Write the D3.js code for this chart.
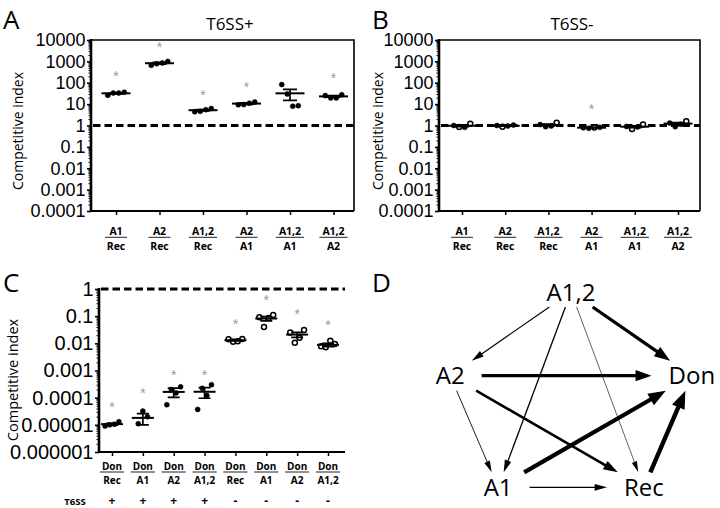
<!DOCTYPE html>
<html><head><meta charset="utf-8">
<script src="https://cdn.jsdelivr.net/npm/d3@7"></script>
<style>body{margin:0;background:#fff} svg{display:block}</style>
</head><body><svg id="c" width="720" height="508"></svg>
<script>
// ---------- DATA ----------
const numAB = ["A1","A2","A1,2","A2","A1,2","A1,2"];
const denAB = ["Rec","Rec","Rec","A1","A1","A2"];
const ticksAB = [1e4,1e3,100,10,1,0.1,0.01,0.001,1e-4];
const tickLabelsAB = ["10000","1000","100","10","1","0.1","0.01","0.001","0.0001"];

const pointsA = [[26,33,33,36],[650,780,850,1000],[4.4,4.6,5.5,6.2],[9.3,9.5,11,12.5],[82,30,8,8.5],[25,19.5,19.5,27.5]];
const meansA = [32,820,5.2,10.6,32,23];
const semA = [2,75,0.4,0.8,17,2];
const starsA = [263,5850,34,81,null,212];

const pointsB = [[1.0,0.85,0.82,1.2],[1.0,0.88,0.95,1.05],[1.1,0.88,0.95,1.35],[0.78,0.74,0.8,0.82],[0.9,0.68,0.85,1.1],[1.3,0.88,1.15,1.6]];
const openB = [[0,1,0,1],[0,1,0,0],[0,0,0,1],[0,0,1,0],[0,1,0,1],[0,0,0,1]];
const meansB = [0.97,0.97,1.07,0.79,0.88,1.23];
const semB = [0.09,0.04,0.1,0.02,0.09,0.15];
const starsB = [null,null,null,7.6,null,null];

const numC = ["Don","Don","Don","Don","Don","Don","Don","Don"];
const denC = ["Rec","A1","A2","A1,2","Rec","A1","A2","A1,2"];
const t6ssC = ["+","+","+","+","-","-","-","-"];
const ticksC = [1,0.1,0.01,0.001,1e-4,1e-5,1e-6];
const tickLabelsC = ["1","0.1","0.01","0.001","0.0001","0.00001","0.000001"];
const pointsC = [[0.9e-5,1.0e-5,1.05e-5,1.3e-5],[1.1e-5,3.2e-5,2.0e-5],[5.5e-5,2.0e-4,1.5e-4,2.5e-4],[3.7e-5,2.2e-4,1.2e-4,3.0e-4],[0.014,0.0115,0.012,0.0145],[0.092,0.04,0.085,0.11],[0.025,0.0105,0.016,0.031],[0.0078,0.0072,0.0125,0.0095]];
const openC = [0,0,0,0,1,1,1,1];
const meansC = [1.06e-5,1.8e-5,1.63e-4,1.65e-4,0.013,0.082,0.021,0.0088];
const semC = [0.08e-5,0.8e-5,0.6e-4,0.7e-4,0.0008,0.015,0.0045,0.0012];
const starsC = [5.6e-5,1.8e-4,8.1e-4,8.1e-4,0.062,0.48,0.145,0.057];

const nodesD = ["A1,2","Don","Rec","A1","A2"];
const edgesD = [["A1,2","A2",23],["A1,2","A1",32],["A1,2","Rec",5.2],["A1,2","Don",1/1.65e-4],["A2","Don",1/1.63e-4],["A2","Rec",820],["A2","A1",10.6],["A1","Don",1/1.8e-5],["Rec","Don",1/1.06e-5],["A1","Rec",32]];

// ---------- DRAW ----------
const svg = d3.select("#c");
const sans = "'Open Sans','Noto Sans',sans-serif";
const numFont = "'Liberation Sans',Arial,sans-serif";

function minorTicks(domain){
  const out=[]; const lo=Math.round(Math.log10(domain[0])), hi=Math.round(Math.log10(domain[1]));
  for(let e=lo;e<hi;e++) for(let m=2;m<=9;m++) out.push(m*Math.pow(10,e));
  return out;
}

function panel(cfg, d){
  const y = d3.scaleLog().domain(cfg.domain).range([cfg.yBot, cfg.yTop]);
  const x = d3.scalePoint().domain(d3.range(d.num.length)).range(cfg.catRange);
  const g = svg.append("g");
  g.append("line").attr("x1",cfg.x0+2).attr("x2",cfg.x1).attr("y1",y(1)).attr("y2",y(1))
    .attr("stroke","#000").attr("stroke-width",2.8).attr("stroke-dasharray","7.5,4");
  if(cfg.box) g.append("path").attr("d",`M${cfg.x0},${cfg.yTop}H${cfg.x1}V${cfg.yBot}`)
    .attr("fill","none").attr("stroke","#000").attr("stroke-width",1.6);
  g.append("line").attr("x1",cfg.x0).attr("x2",cfg.x1).attr("y1",cfg.yBot).attr("y2",cfg.yBot)
    .attr("stroke","#000").attr("stroke-width",2);
  const xa = g.append("g").attr("transform",`translate(0,${cfg.yBot})`)
    .call(d3.axisBottom(x).tickSize(4).tickFormat(""));
  xa.select(".domain").remove();
  xa.selectAll("line").attr("stroke-width",1.5);
  const ym = g.append("g").attr("transform",`translate(${cfg.x0},0)`)
    .call(d3.axisLeft(y).tickValues(minorTicks(cfg.domain)).tickSize(2.5).tickFormat(""));
  ym.select(".domain").remove();
  ym.selectAll("line").attr("stroke-width",1);
  const ya = g.append("g").attr("transform",`translate(${cfg.x0},0)`)
    .call(d3.axisLeft(y).tickValues(d.ticks).tickFormat((v,i)=>d.tickLabels[i]).tickSize(4).tickPadding(1.5));
  ya.select(".domain").attr("d",`M0,${cfg.yBot+1}V${cfg.yTop-1}`).attr("stroke-width",2.6);
  ya.selectAll("line").attr("stroke-width",1.6);
  ya.selectAll("text").attr("font-family",numFont).attr("font-size",cfg.tickFont).attr("fill","#000");
  g.append("text").attr("transform",`translate(${cfg.labX},${cfg.labY}) rotate(-90)`)
    .attr("text-anchor","middle").attr("dy","0.35em").attr("font-family",sans).attr("font-size",cfg.labFont)
    .text("Competitive index");
  d.points.forEach((pts,ci)=>{
    const n=pts.length;
    pts.forEach((v,pi)=>{
      const open = Array.isArray(d.open[ci]) ? d.open[ci][pi] : d.open[ci];
      g.append("circle").attr("cx",x(ci)+(pi-(n-1)/2)*cfg.jit).attr("cy",y(v)).attr("r",2.5)
        .attr("fill",open?"#fff":"#000").attr("stroke","#000").attr("stroke-width",open?1.5:0.5);
    });
  });
  d.means.forEach((m,ci)=>{
    const cx=x(ci), lo=y(m-d.sem[ci]), hi=y(m+d.sem[ci]);
    g.append("line").attr("x1",cx-cfg.meanW/2).attr("x2",cx+cfg.meanW/2).attr("y1",y(m)).attr("y2",y(m))
      .attr("stroke","#000").attr("stroke-width",2);
    g.append("path").attr("d",`M${cx},${lo}V${hi}M${cx-cfg.capW/2},${lo}H${cx+cfg.capW/2}M${cx-cfg.capW/2},${hi}H${cx+cfg.capW/2}`)
      .attr("stroke","#000").attr("stroke-width",1.7).attr("fill","none");
  });
  d.stars.forEach((s,ci)=>{ if(s==null) return;
    g.append("text").attr("x",x(ci)).attr("y",y(s)+7.5).attr("text-anchor","middle")
      .attr("font-family",numFont).attr("font-size",14).attr("fill","#999").text("*");
  });
  d.num.forEach((t,ci)=>{
    const cx=x(ci);
    const t1=g.append("text").attr("x",cx).attr("y",cfg.numY).attr("text-anchor","middle")
      .attr("font-family",sans).attr("font-weight","bold").attr("font-size",cfg.catFont).text(t);
    g.append("text").attr("x",cx).attr("y",cfg.denY).attr("text-anchor","middle")
      .attr("font-family",sans).attr("font-weight","bold").attr("font-size",cfg.catFont).text(d.den[ci]);
    const w=Math.max(t1.node().getComputedTextLength(), 16)+cfg.ulPad;
    g.append("line").attr("x1",cx-w/2).attr("x2",cx+w/2).attr("y1",cfg.ulY).attr("y2",cfg.ulY)
      .attr("stroke","#222").attr("stroke-width",1);
    if(d.t6ss) g.append("text").attr("x",cx).attr("y",cfg.t6Y).attr("text-anchor","middle")
      .attr("font-family",sans).attr("font-weight","bold").attr("font-size",12).text(d.t6ss[ci]);
  });
  return {x,y};
}

const cfgAB = {domain:[1e-4,1e4], yTop:40, yBot:211, box:true, tickFont:18, labFont:14, labY:131,
  jit:5.5, meanW:29, capW:14, numY:234.5, denY:249.5, ulY:237.3, catFont:10.5, ulPad:6};
panel(Object.assign({},cfgAB,{x0:91,x1:354,catRange:[116,333.5],labX:18}),
  {num:numAB,den:denAB,ticks:ticksAB,tickLabels:tickLabelsAB,points:pointsA,open:pointsA.map(()=>0),means:meansA,sem:semA,stars:starsA});
panel(Object.assign({},cfgAB,{x0:439,x1:700,catRange:[462,678],labX:378}),
  {num:numAB,den:denAB,ticks:ticksAB,tickLabels:tickLabelsAB,points:pointsB,open:openB,means:meansB,sem:semB,stars:starsB});
panel({domain:[1e-6,1], yTop:289, yBot:452, box:false, tickFont:20, labFont:14.5, labX:13, labY:380,
  x0:99, x1:345, catRange:[112,328], jit:4.6, meanW:22, capW:12, numY:469.5, denY:484.3, ulY:472, catFont:10, ulPad:4, t6Y:505},
  {num:numC,den:denC,ticks:ticksC,tickLabels:tickLabelsC,points:pointsC,open:openC,means:meansC,sem:semC,stars:starsC,t6ss:t6ssC});
svg.append("text").attr("x",75).attr("y",505).attr("text-anchor","middle").attr("font-family",sans)
  .attr("font-weight","bold").attr("font-size",9.5).text("T6SS");

svg.append("text").attr("x",230).attr("y",30).attr("text-anchor","middle").attr("font-family",sans).attr("font-size",17).text("T6SS+");
svg.append("text").attr("x",572).attr("y",30).attr("text-anchor","middle").attr("font-family",sans).attr("font-size",17).text("T6SS-");
[["A",3,28.5],["B",372,28.5],["C",3,292],["D",372,292]].forEach(([t,x,y])=>
  svg.append("text").attr("x",x).attr("y",y).attr("font-family",sans).attr("font-size",26).text(t));

// ---------- PANEL D ----------
const angles = {"A1,2":-90,"Don":-13,"Rec":54,"A1":126,"A2":193};
const cxD=571, cyD=400, rxD=124, ryD=108;
const pos={}, half={};
const gD = svg.append("g");
nodesD.forEach(n=>{
  const a=angles[n]*Math.PI/180;
  pos[n]=[cxD+rxD*Math.cos(a), cyD+ryD*Math.sin(a)];
  const t=gD.append("text").attr("x",pos[n][0]).attr("y",pos[n][1]).attr("dy","0.36em").attr("text-anchor","middle")
    .attr("font-family",sans).attr("font-size",24).text(n);
  half[n]=[t.node().getComputedTextLength()/2+17, 15];
});
const wScale = d3.scaleLinear().domain([0.7,5]).range([0.6,4.4]);
edgesD.forEach(([s,t,ci])=>{
  const p=pos[s], q=pos[t];
  let dx=q[0]-p[0], dy=q[1]-p[1]; const L=Math.hypot(dx,dy); dx/=L; dy/=L;
  const clip=(h)=>Math.min(Math.abs(dx)>1e-6?h[0]/Math.abs(dx):1e9, Math.abs(dy)>1e-6?h[1]/Math.abs(dy):1e9);
  const t0=clip(half[s]), t1=L-clip(half[t]);
  const w=wScale(Math.abs(Math.log10(ci)));
  const hl=10+1.8*w, hw=2+1.1*w;
  const sx=p[0]+dx*t0, sy=p[1]+dy*t0, ex=p[0]+dx*t1, ey=p[1]+dy*t1;
  gD.append("line").attr("x1",sx).attr("y1",sy).attr("x2",ex-dx*hl*0.8).attr("y2",ey-dy*hl*0.8)
    .attr("stroke","#000").attr("stroke-width",w);
  const bx=ex-dx*hl, by=ey-dy*hl;
  gD.append("path").attr("d",`M${ex},${ey}L${bx-dy*hw},${by+dx*hw}L${bx+dy*hw},${by-dx*hw}Z`).attr("fill","#000");
});
</script></body></html>
